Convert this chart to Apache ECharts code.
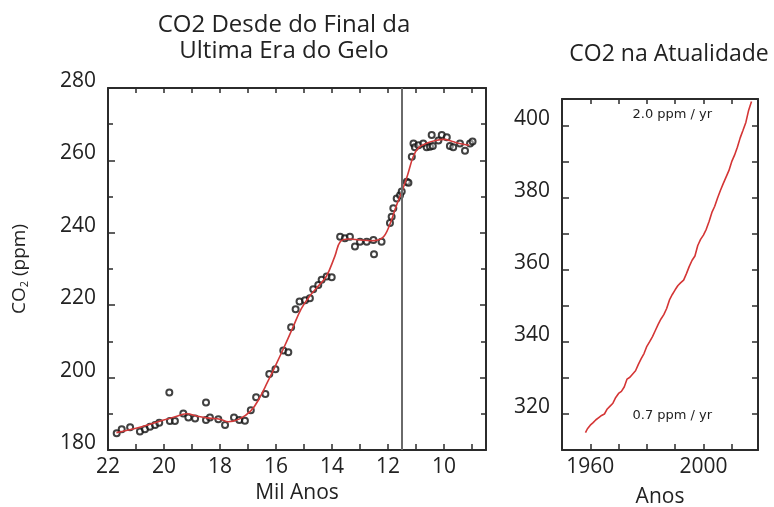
<!DOCTYPE html>
<html>
<head>
<meta charset="utf-8">
<script src="https://cdn.jsdelivr.net/npm/echarts@6/dist/echarts.min.js"></script>
<style>
html,body{margin:0;padding:0;background:#fff;}
#c{width:774px;height:507px;}
</style>
</head>
<body>
<div id="c"></div>
<script>
// Ice-core data: age (thousand years before present) and CO2 (ppm)
const iceAge = [21.69,21.51,21.21,20.86,20.68,20.50,20.32,20.17,19.81,19.79,19.61,19.31,19.13,18.89,18.50,18.50,18.36,18.06,17.82,17.50,17.31,17.11,16.90,16.71,16.38,16.24,16.02,15.74,15.56,15.46,15.30,15.16,14.96,14.79,14.67,14.49,14.37,14.19,14.01,13.71,13.54,13.36,13.18,13.00,12.76,12.52,12.50,12.23,11.93,11.87,11.81,11.69,11.57,11.51,11.33,11.27,11.15,11.09,11.04,10.91,10.74,10.62,10.50,10.40,10.44,10.20,10.08,9.90,9.79,9.67,9.43,9.25,9.07,8.98];
const iceCO2 = [184.6,185.7,186.3,185.1,185.7,186.4,186.9,187.5,195.9,188.0,188.0,190.1,189.0,188.7,193.1,188.3,189.0,188.5,186.9,189.0,188.3,188.1,191.0,194.6,195.5,201.0,202.3,207.5,207.0,213.9,218.9,221.0,221.4,221.9,224.4,225.6,227.0,227.9,227.7,238.9,238.5,238.9,236.2,237.5,237.5,238.0,234.1,237.5,242.7,244.4,246.8,249.5,250.4,251.4,254.1,253.8,261.0,264.7,263.6,264.2,264.7,263.6,263.8,264.0,267.0,265.5,267.0,266.4,264.0,263.6,264.7,262.7,264.7,265.2];
// Fitted curve
const fitAge = [21.7,21.0,20.3,19.6,19.2,18.8,18.4,18.0,17.7,17.3,16.9,16.6,16.3,16.0,15.7,15.4,15.1,14.8,14.5,14.2,13.9,13.7,13.4,13.0,12.6,12.2,11.95,11.7,11.5,11.3,11.1,10.9,10.6,10.3,10.0,9.7,9.4,9.1];
const fitCO2 = [184.8,186.0,187.6,189.2,190.0,189.3,188.8,188.5,187.8,188.6,190.8,194.2,198.8,203.6,208.6,213.8,219.0,222.5,225.2,228.0,233.5,237.6,238.3,238.0,237.8,238.6,242.0,247.5,251.5,256.0,261.0,263.6,264.8,265.5,265.8,265.2,264.6,264.2];
// Mauna Loa record
const mlYear = [1958.3,1959,1960,1961,1962,1963,1964,1965,1966,1967,1968,1969,1970,1971,1972,1973,1974,1975,1976,1977,1978,1979,1980,1981,1982,1983,1984,1985,1986,1987,1988,1989,1990,1991,1992,1993,1994,1995,1996,1997,1998,1999,2000,2001,2002,2003,2004,2005,2006,2007,2008,2009,2010,2011,2012,2013,2014,2015,2016,2017];
const mlCO2 = [314.8,315.9,316.9,317.6,318.4,319.0,319.6,320.0,321.4,322.2,323.0,324.6,325.7,326.3,327.5,329.7,330.2,331.1,332.0,333.8,335.4,336.8,338.8,340.1,341.5,343.2,344.9,346.4,347.6,349.3,351.7,353.2,354.5,355.7,356.5,357.2,359.0,361.0,362.7,363.9,366.8,368.5,369.7,371.3,373.5,376.0,377.7,380.0,382.1,384.0,385.8,387.6,390.1,391.9,394.1,396.7,398.8,401.0,404.4,406.8];
const leftXTicks = [9,10,11,12,13,14,15,16,17,18,19,20,21,22];
const leftXLabels = [10,12,14,16,18,20,22];
const rightXLabels = [1960,2000];
const boundary = 11.5;

const FONT = 'Open Sans';
const AX = '#2b2b2b';
const chart = echarts.init(document.getElementById('c'), null, {renderer:'canvas'});
function pairs(a,b){return a.map((v,i)=>[v,b[i]]);}
const lineAxis = {show:true, lineStyle:{color:AX, width:2}};
const mirrorX = (g, min, max, extra) => Object.assign({gridIndex:g, type:'value', position:'top', min, max,
  axisLine:lineAxis, axisLabel:{show:false}, splitLine:{show:false},
  axisTick:{show:true, inside:true, length:5, lineStyle:{color:AX, width:1.5}}}, extra||{});
const mirrorY = (g, min, max, extra) => Object.assign({gridIndex:g, type:'value', position:'right', min, max,
  axisLine:lineAxis, axisLabel:{show:false}, splitLine:{show:false},
  axisTick:{show:true, inside:true, length:6, lineStyle:{color:AX, width:1.5}}}, extra||{});
const yLabel = {fontFamily:FONT, fontSize:21, color:'#222', margin:12, verticalAlign:'bottom', lineHeight:14};

chart.setOption({
  animation:false,
  backgroundColor:'#fff',
  title:[
    {text:'CO2 Desde do Final da\nUltima Era do Gelo', left:279, top:7, textAlign:'center',
     textStyle:{fontFamily:FONT, fontSize:24, fontWeight:'normal', color:'#222', lineHeight:26}},
    {text:'CO2 na Atualidade', left:664, top:38, textAlign:'center',
     textStyle:{fontFamily:FONT, fontSize:23, fontWeight:'normal', color:'#222'}}
  ],
  grid:[
    {left:108, top:88, width:378, height:362, outerBoundsMode:'none', containLabel:false},
    {left:562, top:99, width:196, height:351, outerBoundsMode:'none', containLabel:false}
  ],
  xAxis:[
    {gridIndex:0, type:'value', inverse:true, min:8.5, max:22, position:'bottom',
     axisLine:lineAxis, splitLine:{show:false},
     axisTick:{show:true, inside:true, length:6, customValues:leftXTicks, lineStyle:{color:AX, width:1.5}},
     axisLabel:{customValues:leftXLabels, fontFamily:FONT, fontSize:21, color:'#222', margin:7},
     name:'Mil Anos', nameLocation:'middle', nameGap:33,
     nameTextStyle:{fontFamily:FONT, fontSize:21, color:'#222'}},
    mirrorX(0, 8.5, 22, {inverse:true, axisTick:{show:true, inside:true, length:5, customValues:leftXTicks, lineStyle:{color:AX, width:1.5}}}),
    {gridIndex:1, type:'value', min:1950, max:2019.3, interval:10, position:'bottom',
     axisLine:lineAxis, splitLine:{show:false},
     axisTick:{show:true, inside:true, length:6, lineStyle:{color:AX, width:1.5}},
     axisLabel:{customValues:rightXLabels, formatter:v=>String(v), fontFamily:FONT, fontSize:21, color:'#222', margin:7},
     name:'Anos', nameLocation:'middle', nameGap:37,
     nameTextStyle:{fontFamily:FONT, fontSize:21, color:'#222'}},
    mirrorX(1, 1950, 2019.3, {interval:10})
  ],
  yAxis:[
    {gridIndex:0, type:'value', min:180, max:280, interval:20, position:'left',
     axisLine:lineAxis, splitLine:{show:false},
     axisTick:{show:true, inside:true, length:7, lineStyle:{color:AX, width:1.5}},
     minorTick:{show:true, splitNumber:2, length:5, lineStyle:{color:AX, width:1.5}},
     axisLabel:yLabel,
     name:'CO{s|2} (ppm)', nameLocation:'middle', nameRotate:90, nameGap:78,
     nameTextStyle:{fontFamily:FONT, fontSize:19, color:'#222', rich:{s:{fontFamily:FONT, fontSize:11, color:'#222', verticalAlign:'bottom', padding:[9,0,0,0]}}}},
    mirrorY(0, 180, 280, {interval:20, minorTick:{show:true, splitNumber:2, length:5, lineStyle:{color:AX, width:1.5}}}),
    {gridIndex:1, type:'value', min:310, max:407.5, interval:10, position:'left',
     axisLine:lineAxis, splitLine:{show:false},
     axisTick:{show:true, inside:true, length:7, lineStyle:{color:AX, width:1.5}},
     axisLabel:Object.assign({}, yLabel, {formatter:v=> (v%20===0 ? String(v) : '')})},
    mirrorY(1, 310, 407.5, {interval:10})
  ],
  series:[
    {type:'scatter', xAxisIndex:0, yAxisIndex:0, data:pairs(iceAge, iceCO2),
     symbol:'circle', symbolSize:6,
     itemStyle:{color:'rgba(255,255,255,0.5)', borderColor:'#111', borderWidth:2},
     markLine:{silent:true, symbol:'none', label:{show:false},
       lineStyle:{color:'#6a6a6a', width:2, type:'solid'}, data:[{xAxis:boundary}]}, z:3},
    {type:'line', xAxisIndex:0, yAxisIndex:0, data:pairs(fitAge, fitCO2), smooth:0.4,
     showSymbol:false, lineStyle:{color:'#d23a3a', width:1.6}, z:4},
    {type:'line', xAxisIndex:2, yAxisIndex:2, data:pairs(mlYear, mlCO2),
     showSymbol:false, lineStyle:{color:'#d43535', width:1.6}, z:4,
     markPoint:{symbol:'rect', symbolSize:1, itemStyle:{color:'transparent'},
       label:{show:true, position:'inside', fontFamily:'DejaVu Sans', fontSize:13, color:'#222',
         formatter:p=>p.name},
       data:[{name:'2.0 ppm / yr', coord:[1989, 403.2]}, {name:'0.7 ppm / yr', coord:[1989, 319.6]}]}}
  ]
});
</script>
</body>
</html>
